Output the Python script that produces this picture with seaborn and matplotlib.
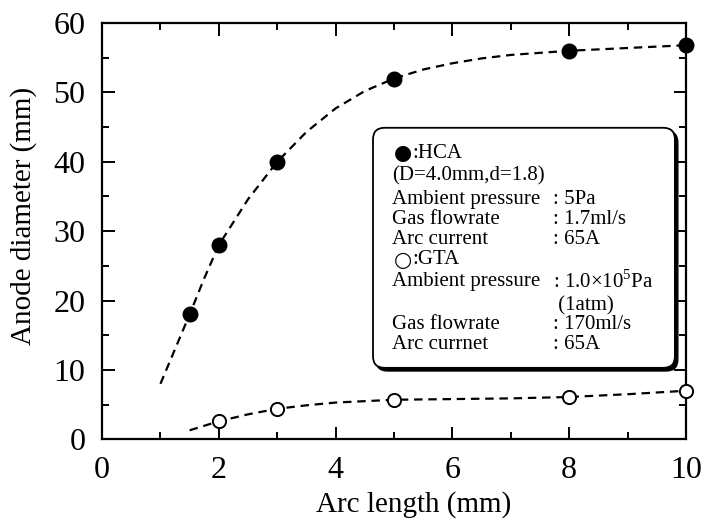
import matplotlib
matplotlib.use("Agg")
import matplotlib.pyplot as plt
import seaborn as sns
from matplotlib.patches import FancyBboxPatch
from matplotlib.ticker import MultipleLocator

# Measured points
hca_x = [1.5, 2, 3, 5, 8, 10]
hca_y = [18.0, 28.0, 40.0, 52.0, 55.9, 56.8]
gta_x = [2, 3, 5, 8, 10]
gta_y = [2.7, 4.4, 5.7, 6.1, 7.0]

# Hand-drawn trend curves
hca_fit_x = [1.0, 1.25, 1.5, 1.75, 2.0, 2.5, 3.0, 3.5, 4.0, 4.5, 5.0, 5.5, 6.0, 6.5, 7.0, 7.5, 8.0, 9.0, 10.0]
hca_fit_y = [8.0, 13.0, 18.0, 23.2, 28.0, 34.6, 40.0, 44.3, 47.7, 50.2, 52.0, 53.3, 54.2, 54.9, 55.4, 55.7, 56.0, 56.4, 56.8]
gta_fit_x = [1.5, 2.0, 2.5, 3.0, 3.5, 4.0, 5.0, 6.0, 7.0, 8.0, 9.0, 10.0]
gta_fit_y = [1.3, 2.6, 3.6, 4.4, 4.9, 5.3, 5.7, 5.8, 5.9, 6.1, 6.5, 7.0]

x_ticks = [0, 2, 4, 6, 8, 10]
y_ticks = [0, 10, 20, 30, 40, 50, 60]

sns.set_style("ticks")
plt.rcParams["font.family"] = ["Liberation Serif", "DejaVu Serif"]
plt.rcParams["mathtext.fontset"] = "custom"
plt.rcParams["mathtext.rm"] = "Liberation Serif"
plt.rcParams["text.color"] = "black"
plt.rcParams["axes.labelcolor"] = "black"
plt.rcParams["xtick.color"] = "black"
plt.rcParams["ytick.color"] = "black"

fig = plt.figure(figsize=(7.14, 5.22), dpi=100)
ax = fig.add_axes([0.1429, 0.1584, 0.8179, 0.7975])

dash = (3.8, 2.6)
sns.lineplot(x=hca_fit_x, y=hca_fit_y, ax=ax, color="black", lw=1.6,
             linestyle=(0, dash), sort=False, estimator=None)
sns.lineplot(x=gta_fit_x, y=gta_fit_y, ax=ax, color="black", lw=1.6,
             linestyle=(0, dash), sort=False, estimator=None)
ax.plot(hca_x, hca_y, "o", ms=10.5, mfc="black", mec="black", zorder=5, clip_on=False)
ax.plot(gta_x, gta_y, "o", ms=9.5, mfc="white", mec="black", mew=1.4, zorder=5, clip_on=False)

ax.set_xlim(0, 10)
ax.set_ylim(0, 60)
ax.set_xticks(x_ticks)
ax.set_yticks(y_ticks)
ax.xaxis.set_minor_locator(MultipleLocator(1))
ax.yaxis.set_minor_locator(MultipleLocator(5))
ax.tick_params(which="both", direction="in", top=True, right=True, width=1.4,
               labelsize=23, colors="black")
ax.tick_params(which="major", length=9)
ax.tick_params(which="minor", length=5)
ax.tick_params(axis="x", which="major", pad=12)
ax.tick_params(axis="y", which="major", pad=12)
for s in ax.spines.values():
    s.set_linewidth(1.6)
    s.set_color("black")

ax.set_xlabel("Arc length (mm)", fontsize=21)
ax.xaxis.set_label_coords(0.533, -0.125)
ax.set_ylabel("Anode diameter (mm)", fontsize=21)
ax.yaxis.set_label_coords(-0.111, 0.536)

# Condition box with drop shadow
bx0, by0, bx1, by1 = 4.64, 10.3, 9.81, 44.9
shadow = FancyBboxPatch((bx0 + 0.05, by0 - 0.45), bx1 - bx0, by1 - by0,
                        boxstyle="round,pad=0,rounding_size=0.2",
                        mutation_aspect=8.4, fc="black", ec="black", lw=1, zorder=6)
box = FancyBboxPatch((bx0, by0), bx1 - bx0, by1 - by0,
                     boxstyle="round,pad=0,rounding_size=0.2",
                     mutation_aspect=8.4, fc="white", ec="black", lw=1.3, zorder=7)
ax.add_patch(shadow)
ax.add_patch(box)

fs = 15
lx, vx = 4.97, 7.72
rows = [
    (38.0, "(D=4.0mm,d=1.8)", None),
    (34.6, "Ambient pressure", ": 5Pa"),
    (31.7, "Gas flowrate", ": 1.7ml/s"),
    (28.8, "Arc current", ": 65A"),
    (22.8, "Ambient pressure", r": 1.0$\mathregular{\times}$10$^{\mathregular{5}}$Pa"),
    (19.3, None, " (1atm)"),
    (16.6, "Gas flowrate", ": 170ml/s"),
    (13.7, "Arc currnet", ": 65A"),
]
for y, left, right in rows:
    if left:
        ax.text(lx, y, left, fontsize=fs, va="center", ha="left", zorder=8)
    if right:
        ax.text(vx, y, right, fontsize=fs, va="center", ha="left", zorder=8)

# Series keys inside the box
for y, sym, name in [(41.2, "●", ":HCA"), (25.9, "○", ":GTA")]:
    ax.text(lx + 0.02, y, sym, fontsize=15, va="center", ha="left", zorder=8,
            family=["DejaVu Sans"])
    ax.text(lx + 0.34, y, name, fontsize=fs, va="center", ha="left", zorder=8)

fig.savefig("out.png", dpi=100)
